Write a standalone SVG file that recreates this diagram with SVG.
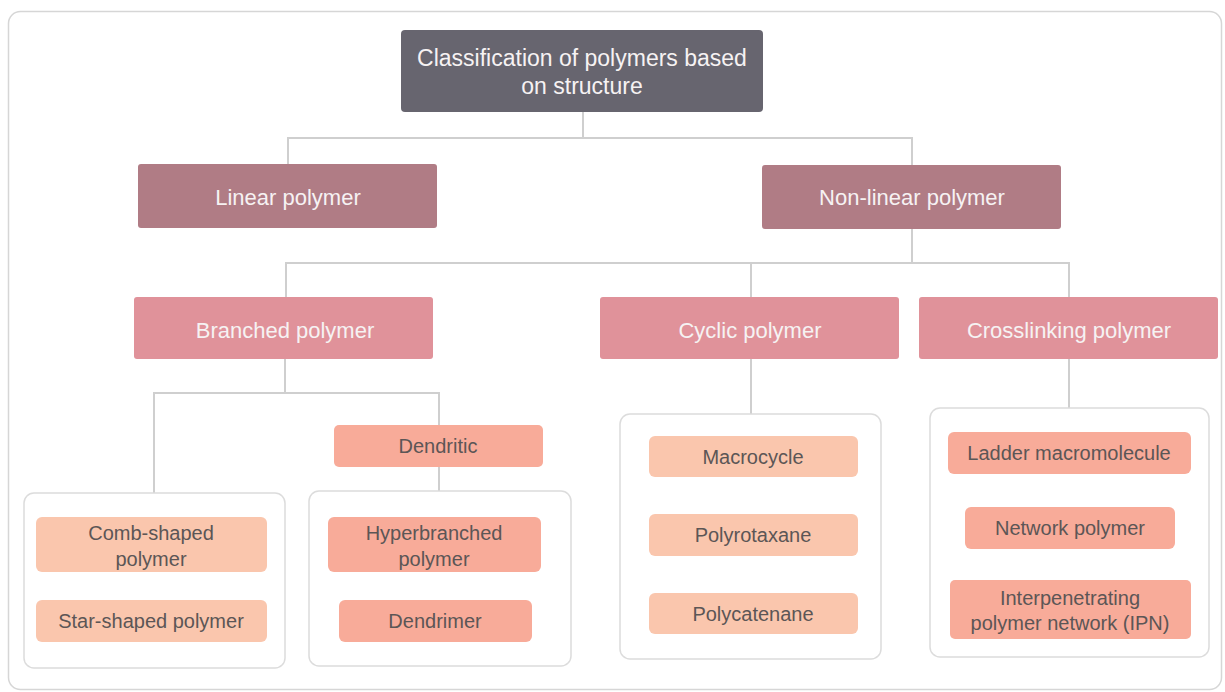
<svg xmlns="http://www.w3.org/2000/svg" width="1225" height="692" viewBox="0 0 1225 692">
<style>
  text { font-family: "Liberation Sans", Arial, sans-serif; text-anchor: middle; }
  .up { fill: #f6f2f3; font-size: 22px; }
  .rt { fill: #f6f2f3; font-size: 23px; }
  .lf { fill: #5c5656; font-size: 20px; }
  .root { fill: #67656f; }
  .l1 { fill: #b07c85; }
  .l2 { fill: #e0929a; }
  .salmon { fill: #f8ab99; }
  .peach { fill: #fac6ad; }
  .grp { fill: #ffffff; stroke: #dcdcdc; stroke-width: 1.5; }
  .conn { fill: none; stroke: #cfcfcf; stroke-width: 2; }
</style>
<rect width="1225" height="692" fill="#ffffff"/>
<rect x="8.5" y="11.5" width="1213" height="678" rx="12" fill="#ffffff" stroke="#d6d6d6" stroke-width="1.5"/>

<g id="connectors">
  <path class="conn" d="M583 112 V138 M288 164 V138 H912 V165"/>
  <path class="conn" d="M912 229 V263 M286 297 V263 H1069 V297 M751 263 V297"/>
  <path class="conn" d="M285 359 V393 M154 493 V393 H439 V425"/>
  <path class="conn" d="M439 467 V491"/>
  <path class="conn" d="M751 359 V414"/>
  <path class="conn" d="M1069 359 V408"/>
</g>

<g id="group-branched-left"><rect class="grp" x="24" y="493" width="261" height="175" rx="10"/></g>
<g id="group-dendritic"><rect class="grp" x="309" y="491" width="262" height="175" rx="10"/></g>
<g id="group-cyclic"><rect class="grp" x="620" y="414" width="261" height="245" rx="10"/></g>
<g id="group-crosslinking"><rect class="grp" x="930" y="408" width="279" height="249" rx="10"/></g>

<g id="root">
  <rect class="root" x="401" y="30" width="362" height="82" rx="4"/>
  <text class="rt" x="582" y="66">Classification of polymers based</text>
  <text class="rt" x="582" y="94">on structure</text>
</g>

<g id="linear">
  <rect class="l1" x="138" y="164" width="299" height="64" rx="3"/>
  <text class="up" x="288" y="205">Linear polymer</text>
</g>
<g id="nonlinear">
  <rect class="l1" x="762" y="165" width="299" height="64" rx="3"/>
  <text class="up" x="912" y="205">Non-linear polymer</text>
</g>

<g id="branched">
  <rect class="l2" x="134" y="297" width="299" height="62" rx="3"/>
  <text class="up" x="285" y="338">Branched polymer</text>
</g>
<g id="cyclic">
  <rect class="l2" x="600" y="297" width="299" height="62" rx="3"/>
  <text class="up" x="750" y="338">Cyclic polymer</text>
</g>
<g id="crosslinking">
  <rect class="l2" x="919" y="297" width="299" height="62" rx="3"/>
  <text class="up" x="1069" y="338">Crosslinking polymer</text>
</g>

<g id="dendritic">
  <rect class="salmon" x="334" y="425" width="209" height="42" rx="5"/>
  <text class="lf" x="438" y="453">Dendritic</text>
</g>

<g id="comb">
  <rect class="peach" x="36" y="517" width="231" height="55" rx="6"/>
  <text class="lf" x="151" y="540">Comb-shaped</text>
  <text class="lf" x="151" y="566">polymer</text>
</g>
<g id="star">
  <rect class="peach" x="36" y="600" width="231" height="42" rx="6"/>
  <text class="lf" x="151" y="628">Star-shaped polymer</text>
</g>

<g id="hyperbranched">
  <rect class="salmon" x="328" y="517" width="213" height="55" rx="6"/>
  <text class="lf" x="434" y="540">Hyperbranched</text>
  <text class="lf" x="434" y="566">polymer</text>
</g>
<g id="dendrimer">
  <rect class="salmon" x="339" y="600" width="193" height="42" rx="6"/>
  <text class="lf" x="435" y="628">Dendrimer</text>
</g>

<g id="macrocycle">
  <rect class="peach" x="649" y="436" width="209" height="41" rx="6"/>
  <text class="lf" x="753" y="464">Macrocycle</text>
</g>
<g id="polyrotaxane">
  <rect class="peach" x="649" y="514" width="209" height="42" rx="6"/>
  <text class="lf" x="753" y="542">Polyrotaxane</text>
</g>
<g id="polycatenane">
  <rect class="peach" x="649" y="593" width="209" height="41" rx="6"/>
  <text class="lf" x="753" y="621">Polycatenane</text>
</g>

<g id="ladder">
  <rect class="salmon" x="948" y="432" width="243" height="42" rx="6"/>
  <text class="lf" x="1069" y="460">Ladder macromolecule</text>
</g>
<g id="network">
  <rect class="salmon" x="965" y="507" width="210" height="42" rx="6"/>
  <text class="lf" x="1070" y="535">Network polymer</text>
</g>
<g id="ipn">
  <rect class="salmon" x="950" y="580" width="241" height="59" rx="5"/>
  <text class="lf" x="1070" y="605">Interpenetrating</text>
  <text class="lf" x="1070" y="630">polymer network (IPN)</text>
</g>
</svg>
